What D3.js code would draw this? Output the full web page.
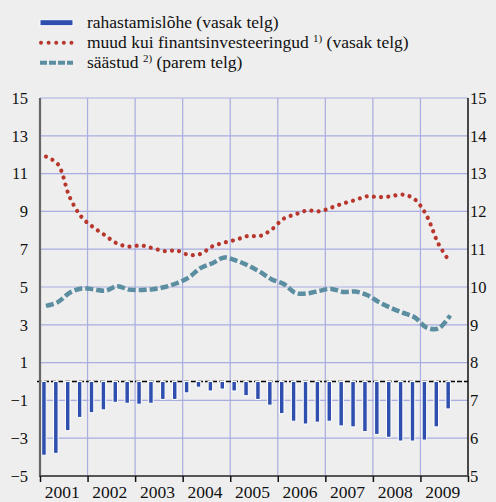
<!DOCTYPE html>
<html>
<head>
<meta charset="utf-8">
<script src="https://cdn.jsdelivr.net/npm/d3@7"></script>
<style>
    body { margin: 0; background: #eeeeee; }
    svg { display: block; }
    svg text { font-family: "Liberation Serif", "Times New Roman", "DejaVu Serif", serif; }
</style>
</head>
<body>
<svg id="chart" width="496" height="502"></svg>
<script>
// data, quarterly 2001Q1 .. 2009Q3
const years = ['2001', '2002', '2003', '2004', '2005', '2006', '2007', '2008', '2009'];
const leftTicks = [-5, -3, -1, 1, 3, 5, 7, 9, 11, 13, 15];
const rightTicks = [5, 6, 7, 8, 9, 10, 11, 12, 13, 14, 15];

const financingGap = [
    -3.9, -3.8, -2.6, -1.9,
    -1.65, -1.5, -1.1, -1.15,
    -1.2, -1.15, -0.95, -0.95,
    -0.6, -0.3, -0.5, -0.4,
    -0.5, -0.75, -0.95, -1.25,
    -1.7, -2.1, -2.25, -2.15,
    -2.1, -2.35, -2.4, -2.65,
    -2.8, -2.95, -3.15, -3.15,
    -3.1, -2.4, -1.45
];
const nonFinancial = [
    11.9, 11.5, 9.75, 8.7,
    8.15, 7.72, 7.3, 7.14,
    7.2, 7.05, 6.9, 6.93,
    6.7, 6.75, 7.15, 7.35,
    7.5, 7.7, 7.7, 8.05,
    8.62, 8.85, 9.05, 9.0,
    9.2, 9.42, 9.6, 9.8,
    9.75, 9.8, 9.89, 9.65,
    8.8, 7.3, 6.3
];
const savings = [
    9.5, 9.6, 9.85, 9.96,
    9.94, 9.9, 10.02, 9.93,
    9.92, 9.94, 10.0, 10.1,
    10.25, 10.5, 10.63, 10.78,
    10.7, 10.57, 10.4, 10.2,
    10.08, 9.84, 9.83, 9.9,
    9.95, 9.87, 9.88, 9.79,
    9.6, 9.45, 9.32, 9.2,
    8.93, 8.9, 9.25
];

const legendItems = [
    { text: 'rahastamislõhe (vasak telg)', sup: null, after: null, kind: 'bar' },
    { text: 'muud kui finantsinvesteeringud ', sup: '1)', after: ' (vasak telg)', kind: 'dot' },
    { text: 'säästud ', sup: '2)', after: ' (parem telg)', kind: 'dash' }
];

const colors = { bar: '#2f4fae', dot: '#b8372d', dash: '#5b8ea0', grid: '#a9addf' };
const serif = '"Liberation Serif", "Times New Roman", "DejaVu Serif", serif';

const svg = d3.select('#chart');
const plotLeft = 40, plotRight = 468, plotTop = 98, plotBottom = 476;

const x = d3.scaleLinear().domain([2001, 2010]).range([plotLeft, plotRight]);
const yL = d3.scaleLinear().domain([-5, 15]).range([plotBottom, plotTop]);
const yR = d3.scaleLinear().domain([5, 15]).range([plotBottom, plotTop]);
const xq = i => x(2001 + (i + 0.5) / 4);

// gridlines
svg.append('g')
    .selectAll('line')
    .data(leftTicks.filter(d => d > -5))
    .join('line')
    .attr('x1', plotLeft).attr('x2', plotRight)
    .attr('y1', d => yL(d)).attr('y2', d => yL(d))
    .attr('stroke', colors.grid).attr('stroke-width', 1.2);

svg.append('g')
    .selectAll('line')
    .data(d3.range(2002, 2010))
    .join('line')
    .attr('x1', d => x(d)).attr('x2', d => x(d))
    .attr('y1', plotTop).attr('y2', plotBottom)
    .attr('stroke', colors.grid).attr('stroke-width', 1.2);

// zero line
svg.append('line')
    .attr('x1', plotLeft - 3).attr('x2', plotRight)
    .attr('y1', yL(0)).attr('y2', yL(0))
    .attr('stroke', '#000').attr('stroke-width', 1.3)
    .attr('stroke-dasharray', '5 2');

// bars
const barW = 4.5;
svg.append('g')
    .selectAll('rect')
    .data(financingGap)
    .join('rect')
    .attr('x', (d, i) => xq(i) - barW / 2 - 2)
    .attr('y', yL(0))
    .attr('width', barW)
    .attr('height', d => yL(d) - yL(0))
    .attr('fill', colors.bar)
    .attr('stroke', '#fff').attr('stroke-width', 1);

// lines
const lineL = d3.line().x((d, i) => xq(i)).y(d => yL(d)).curve(d3.curveCatmullRom.alpha(0.5));
const lineR = d3.line().x((d, i) => xq(i)).y(d => yR(d)).curve(d3.curveCatmullRom.alpha(0.5));

svg.append('path')
    .attr('d', lineR(savings))
    .attr('fill', 'none')
    .attr('stroke', colors.dash).attr('stroke-width', 4.5)
    .attr('stroke-dasharray', '8 3');

svg.append('path')
    .attr('d', lineL(nonFinancial))
    .attr('fill', 'none')
    .attr('stroke', colors.dot).attr('stroke-width', 4.2)
    .attr('stroke-linecap', 'round')
    .attr('stroke-dasharray', '0.01 7.2');

// axes
const leftAxis = svg.append('g')
    .attr('transform', `translate(${plotLeft},0)`)
    .call(d3.axisLeft(yL).tickValues(leftTicks).tickSize(0).tickPadding(12).tickFormat(d3.format('d')));
leftAxis.select('.domain').remove();

const rightAxis = svg.append('g')
    .attr('transform', `translate(${plotRight},0)`)
    .call(d3.axisRight(yR).tickValues(rightTicks).tickSize(0).tickPadding(2).tickFormat(d3.format('d')));
rightAxis.select('.domain').remove();

[leftAxis, rightAxis].forEach(g => {
    g.attr('font-family', serif).attr('font-size', 16.5);
    g.selectAll('text').attr('fill', '#111');
});

svg.append('line')
    .attr('x1', plotLeft).attr('x2', plotLeft).attr('y1', plotTop).attr('y2', plotBottom + 1)
    .attr('stroke', '#666').attr('stroke-width', 2.2);
svg.append('line')
    .attr('x1', plotRight).attr('x2', plotRight).attr('y1', plotTop).attr('y2', plotBottom)
    .attr('stroke', '#111').attr('stroke-width', 1.5);

const bottomAxis = svg.append('g')
    .attr('transform', `translate(0,${plotBottom})`)
    .call(d3.axisBottom(x).tickValues(d3.range(2001, 2011)).tickSize(6).tickFormat(''));
bottomAxis.select('.domain')
    .attr('d', `M${plotLeft},0H${plotRight}`)
    .attr('stroke', '#555').attr('stroke-width', 2.2);
bottomAxis.selectAll('.tick line').attr('stroke', '#111').attr('stroke-width', 1.5);

svg.append('g')
    .attr('font-family', serif)
    .selectAll('text')
    .data(years)
    .join('text')
    .attr('x', (d, i) => x(2001 + i + 0.5) - 1.5)
    .attr('y', 498)
    .attr('text-anchor', 'middle')
    .attr('font-size', 17.5)
    .attr('fill', '#111')
    .text(d => d);

// legend
const legend = svg.append('g').attr('font-family', serif);
const rows = legend.selectAll('g')
    .data(legendItems)
    .join('g')
    .attr('transform', (d, i) => `translate(40,${22.7 + i * 20})`);

rows.filter(d => d.kind === 'bar').append('rect')
    .attr('x', 0).attr('y', -3).attr('width', 33).attr('height', 6)
    .attr('fill', colors.bar).attr('stroke', '#fff').attr('stroke-width', 1);
rows.filter(d => d.kind === 'dot').append('line')
    .attr('x1', 1).attr('x2', 33).attr('y1', 0).attr('y2', 0)
    .attr('stroke', colors.dot).attr('stroke-width', 4).attr('stroke-linecap', 'round')
    .attr('stroke-dasharray', '0.01 7.6');
rows.filter(d => d.kind === 'dash').append('line')
    .attr('x1', 0).attr('x2', 33).attr('y1', 0).attr('y2', 0)
    .attr('stroke', colors.dash).attr('stroke-width', 4)
    .attr('stroke-dasharray', '7 2');

const labels = rows.append('text')
    .attr('x', 47).attr('y', 5)
    .attr('font-size', 17.5)
    .attr('fill', '#111');
labels.append('tspan').text(d => d.text);
labels.filter(d => d.sup).append('tspan')
    .attr('font-size', 11).attr('dy', -6).text(d => d.sup);
labels.filter(d => d.after).append('tspan')
    .attr('dy', 6).text(d => d.after);
</script>
</body>
</html>
